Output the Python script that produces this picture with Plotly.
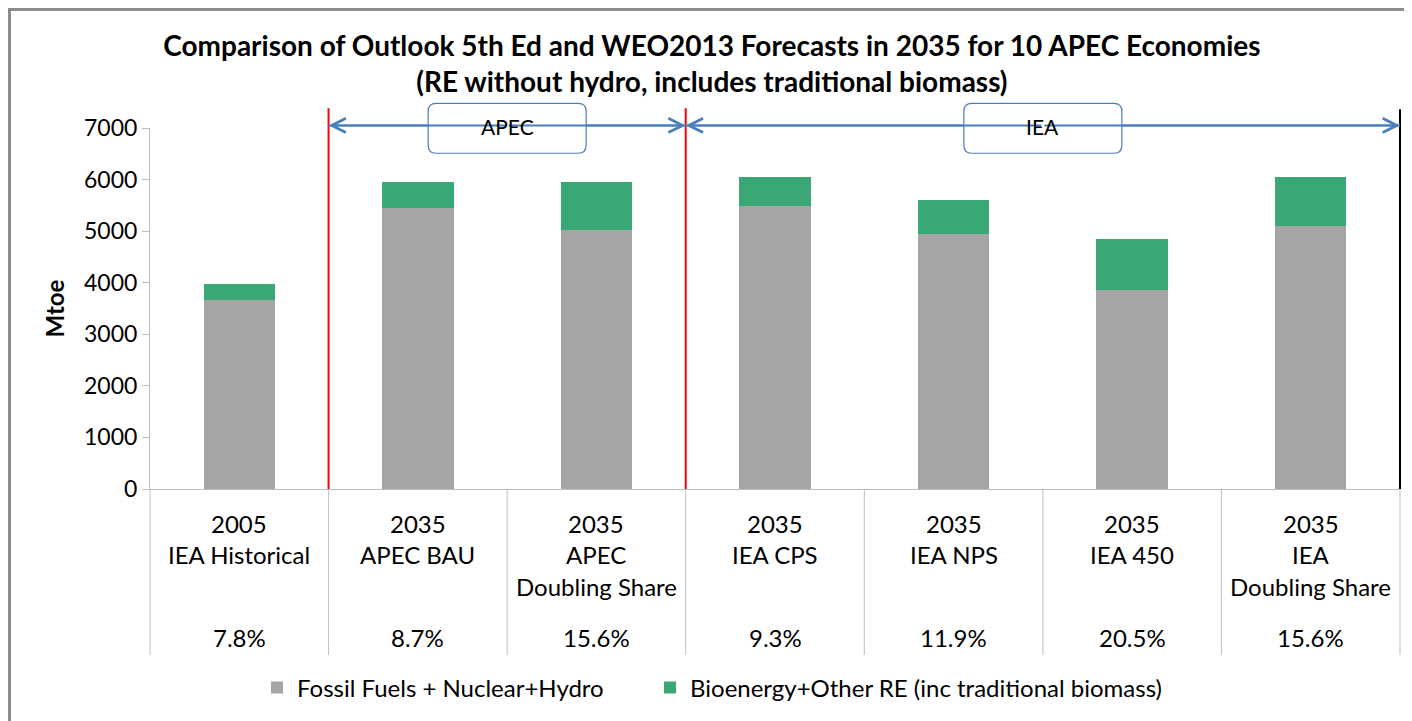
import plotly.graph_objects as go

# datos (Mtoe)
years = ["2005", "2035", "2035", "2035", "2035", "2035", "2035"]
scenarios = ["IEA Historical", "APEC BAU", "APEC<br>Doubling Share", "IEA CPS",
             "IEA NPS", "IEA 450", "IEA<br>Doubling Share"]
re_share = ["7.8%", "8.7%", "15.6%", "9.3%", "11.9%", "20.5%", "15.6%"]
fossil = [3665, 5440, 5025, 5490, 4935, 3850, 5105]
bio_re = [310, 515, 930, 565, 670, 995, 945]

groups = ["APEC", "IEA"]
group_spans = [(0.5, 2.5), (2.5, 6.5)]  # limites entre categorias

FONT = "Lato, Open Sans, sans-serif"
GRIS = "#A5A5A5"
VERDE = "#3AA874"
AZUL = "#4A7EBB"

n = len(years)
x = list(range(n))

fig = go.Figure()
fig.add_trace(go.Bar(x=x, y=fossil, name="Fossil Fuels + Nuclear+Hydro",
                     marker=dict(color=GRIS, line=dict(width=0)), width=0.4,
                     legend="legend"))
fig.add_trace(go.Bar(x=x, y=bio_re, name="Bioenergy+Other RE (inc traditional biomass)",
                     marker=dict(color=VERDE, line=dict(width=0)), width=0.4,
                     legend="legend2"))

shapes = []
annotations = []

# lineas de la tabla de categorias
for k in range(n + 1):
    shapes.append(dict(type="line", xref="paper", yref="paper", x0=k / n, x1=k / n,
                       y0=0, y1=-0.46, line=dict(color="#BFBFBF", width=1)))

# separadores rojos y linea negra a la derecha
for xs in [group_spans[0][0], group_spans[1][0]]:
    shapes.append(dict(type="line", xref="x", yref="paper", x0=xs, x1=xs,
                       y0=0, y1=1.055, line=dict(color="#FF0000", width=2)))
shapes.append(dict(type="line", xref="paper", yref="paper", x0=1, x1=1,
                   y0=0, y1=1.052, line=dict(color="black", width=2)))

# marco exterior
shapes.append(dict(type="rect", xref="paper", yref="paper", x0=-0.1124, x1=1.03,
                   y0=-0.7, y1=1.328, line=dict(color="#8C8C8C", width=3)))


def caja_redondeada(xc, y0, y1, ancho):
    # caja con esquinas redondeadas, x en unidades de categoria, y en paper
    rx, ry = 0.045, 0.022
    x0, x1 = xc - ancho / 2, xc + ancho / 2
    return (f"M{x0 + rx},{y0} L{x1 - rx},{y0} Q{x1},{y0} {x1},{y0 + ry} "
            f"L{x1},{y1 - ry} Q{x1},{y1} {x1 - rx},{y1} L{x0 + rx},{y1} "
            f"Q{x0},{y1} {x0},{y1 - ry} L{x0},{y0 + ry} Q{x0},{y0} {x0 + rx},{y0} Z")


y_flecha = 1.007
for g, (a, b) in zip(groups, group_spans):
    mid = (a + b) / 2
    shapes.append(dict(type="line", xref="x", yref="paper", x0=a, x1=b,
                       y0=y_flecha, y1=y_flecha, line=dict(color=AZUL, width=2)))
    for extremo in (a, b):
        annotations.append(dict(xref="x", yref="paper", x=extremo, y=y_flecha, text="",
                                showarrow=True, axref="x", ax=mid, ay=0,
                                arrowhead=5, arrowsize=1.4, arrowwidth=2,
                                arrowcolor=AZUL, standoff=0))
    shapes.append(dict(type="path", xref="x", yref="paper",
                       path=caja_redondeada(mid, 0.93, 1.068, 0.885),
                       fillcolor="white", line=dict(color=AZUL, width=1.2), layer="above"))
    annotations.append(dict(xref="x", yref="paper", x=mid, y=1.005, text=g,
                            showarrow=False, yanchor="middle",
                            font=dict(family=FONT, size=21, color="black")))

# etiquetas de categoria
for i in x:
    lineas = [years[i]] + scenarios[i].split("<br>")
    for j, t in enumerate(lineas):
        annotations.append(dict(xref="x", yref="paper", x=i, y=-0.0942 - j * 0.0886,
                                text=t, showarrow=False, yanchor="middle",
                                font=dict(family=FONT, size=24, color="black")))
    annotations.append(dict(xref="x", yref="paper", x=i, y=-0.41, text=re_share[i],
                            showarrow=False, yanchor="middle",
                            font=dict(family=FONT, size=24, color="black")))

leyenda = dict(orientation="h", xanchor="left", y=-0.551, yanchor="middle",
               font=dict(family=FONT, size=24, color="black"))

fig.update_layout(
    width=1412, height=721,
    margin=dict(l=142, r=20, t=120, b=240, autoexpand=False),
    barmode="stack",
    template=None,
    plot_bgcolor="white", paper_bgcolor="white",
    font=dict(family=FONT, color="black"),
    title=dict(text="<b>Comparison of Outlook 5th Ed and WEO2013 Forecasts in 2035 for 10 APEC Economies"
                    "<br>(RE without hydro, includes traditional biomass)</b>",
               x=0.4985, xanchor="center", y=1 - 48 / 721, yanchor="middle",
               font=dict(family=FONT, size=28, color="black")),
    showlegend=True,
    legend=dict(leyenda, x=0.0856),
    legend2=dict(leyenda, x=0.4),
    shapes=shapes,
    annotations=annotations,
)
fig.update_xaxes(range=[-0.5, 6.5], showticklabels=False, showgrid=False, zeroline=False,
                 showline=True, linecolor="#BFBFBF", linewidth=1, ticks="")
fig.update_yaxes(range=[0, 7000], dtick=1000, showgrid=False, zeroline=False,
                 showline=True, linecolor="#BFBFBF", linewidth=1,
                 ticks="outside", ticklen=7, tickcolor="#BFBFBF",
                 tickfont=dict(family=FONT, size=23, color="black"),
                 title=dict(text="<b>Mtoe</b>", standoff=12,
                            font=dict(family=FONT, size=24, color="black")))

fig.write_html("out.html")
